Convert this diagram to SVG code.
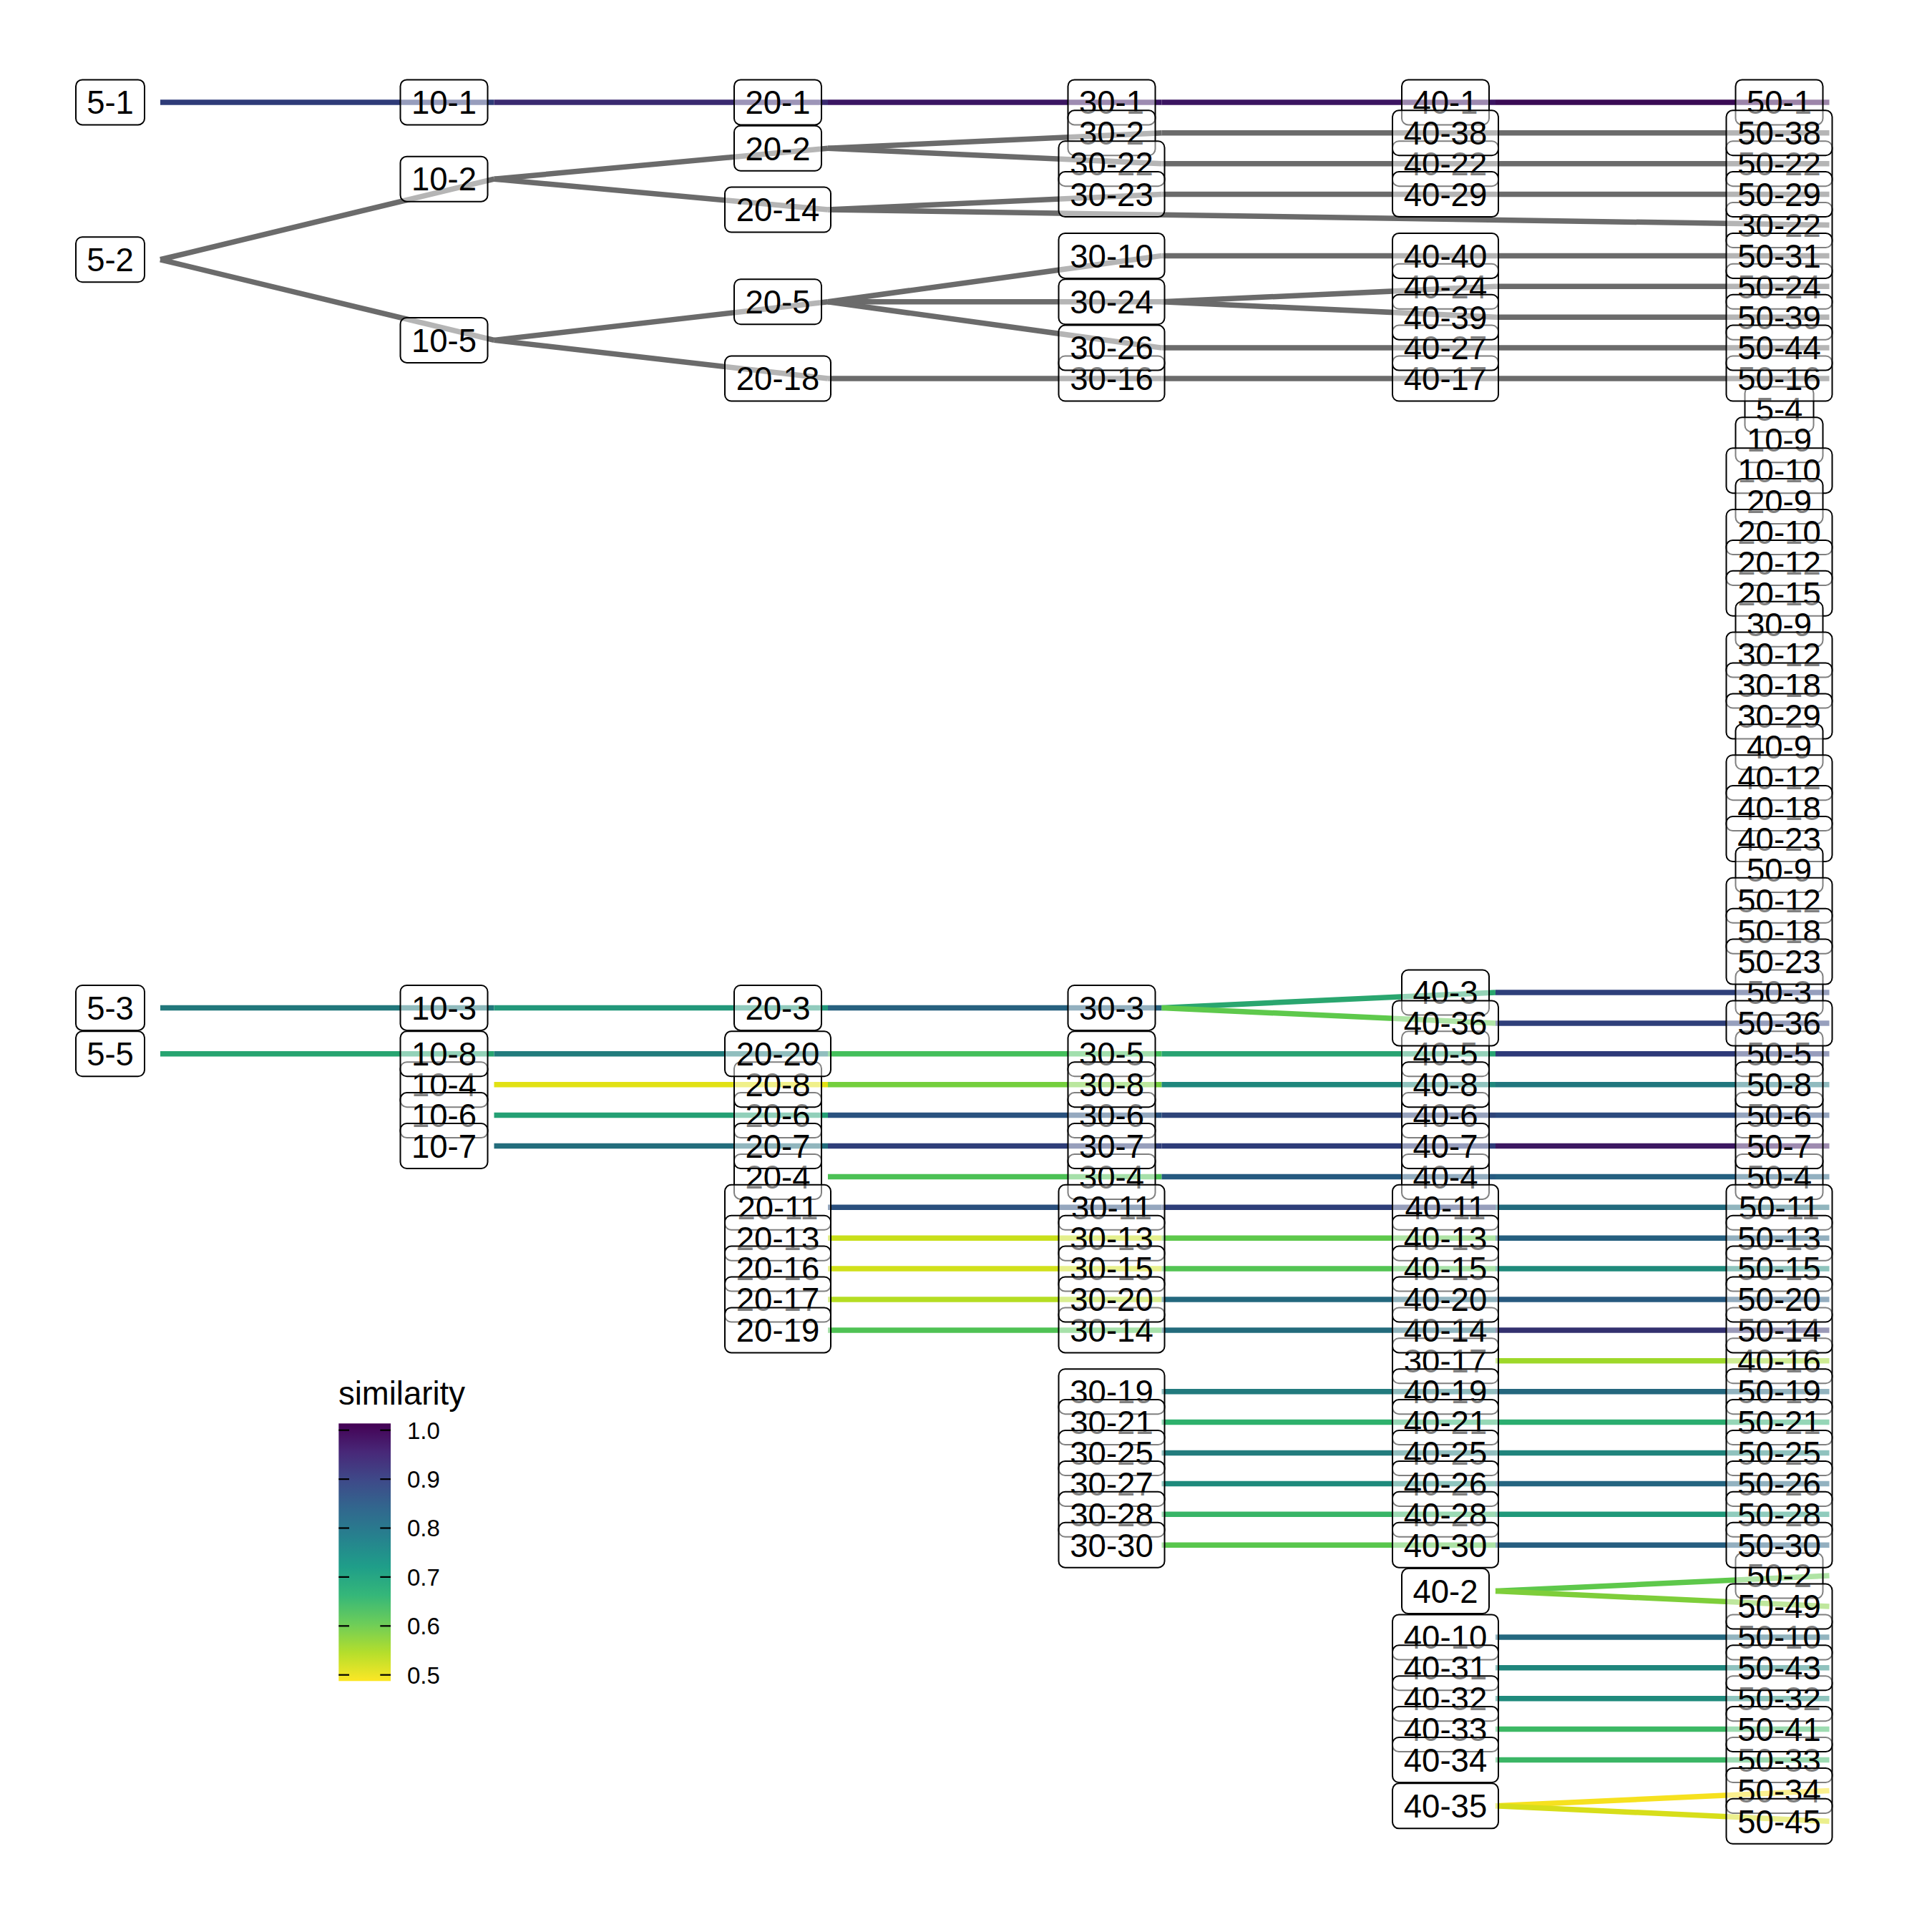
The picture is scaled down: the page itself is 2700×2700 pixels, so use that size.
<svg xmlns="http://www.w3.org/2000/svg" xmlns:xlink="http://www.w3.org/1999/xlink" width="2700" height="2700" viewBox="0 0 2700 2700">
<style>
text{font-family:"Liberation Sans",Arial,sans-serif;fill:#000}
.n text{font-size:45.5px;text-anchor:middle}
#edges line{stroke-width:7.5;fill:none}
#edges .g{stroke:#6b6b6b}
.lg{font-size:33px}
.tk{stroke:#000;stroke-width:2.2}
</style>
<defs>
<rect id="b3" x="-48" y="-31.5" width="96" height="63" rx="9" fill="#fff" fill-opacity="0.5" stroke="#000" stroke-width="2"/>
<rect id="b4" x="-61" y="-31.5" width="122" height="63" rx="9" fill="#fff" fill-opacity="0.5" stroke="#000" stroke-width="2"/>
<rect id="b5" x="-74" y="-31.5" width="148" height="63" rx="9" fill="#fff" fill-opacity="0.5" stroke="#000" stroke-width="2"/>
<rect id="st" x="61" y="-4.5" width="9.5" height="9" fill="#fff" fill-opacity="0.5"/>
<linearGradient id="vir" x1="0" y1="0" x2="0" y2="1">
<stop offset="0" stop-color="#440154"/>
<stop offset="0.111" stop-color="#482878"/>
<stop offset="0.222" stop-color="#3E4A89"/>
<stop offset="0.333" stop-color="#31688E"/>
<stop offset="0.444" stop-color="#26828E"/>
<stop offset="0.556" stop-color="#1F9E89"/>
<stop offset="0.667" stop-color="#35B779"/>
<stop offset="0.778" stop-color="#6DCD59"/>
<stop offset="0.889" stop-color="#B4DE2C"/>
<stop offset="1" stop-color="#FDE725"/>
</linearGradient>
</defs>
<rect width="2700" height="2700" fill="#fff"/>
<g id="edges">
<line x1="224" y1="142.9" x2="690.5" y2="142.9" stroke="#2e3b78"/>
<line x1="690.5" y1="142.9" x2="1157" y2="142.9" stroke="#3a2a70"/>
<line x1="1157" y1="142.9" x2="1623.5" y2="142.9" stroke="#3b1663"/>
<line x1="1623.5" y1="142.9" x2="2090" y2="142.9" stroke="#3b1461"/>
<line x1="2090" y1="142.9" x2="2556.5" y2="142.9" stroke="#3a0b55"/>
<line class="g" x1="224" y1="362.76" x2="690.5" y2="250.15"/>
<line class="g" x1="224" y1="362.76" x2="690.5" y2="475.38"/>
<line class="g" x1="690.5" y1="250.15" x2="1157" y2="207.25"/>
<line class="g" x1="690.5" y1="250.15" x2="1157" y2="293.05"/>
<line class="g" x1="690.5" y1="475.38" x2="1157" y2="421.75"/>
<line class="g" x1="690.5" y1="475.38" x2="1157" y2="529"/>
<line class="g" x1="1157" y1="207.25" x2="1623.5" y2="185.8"/>
<line class="g" x1="1157" y1="207.25" x2="1623.5" y2="228.7"/>
<line class="g" x1="1157" y1="293.05" x2="1623.5" y2="271.6"/>
<line class="g" x1="1157" y1="293.05" x2="2556.5" y2="314.5"/>
<line class="g" x1="1157" y1="421.75" x2="1623.5" y2="357.4"/>
<line class="g" x1="1157" y1="421.75" x2="1623.5" y2="421.75"/>
<line class="g" x1="1157" y1="421.75" x2="1623.5" y2="486.1"/>
<line class="g" x1="1157" y1="529" x2="1623.5" y2="529"/>
<line class="g" x1="1623.5" y1="185.8" x2="2090" y2="185.8"/>
<line class="g" x1="1623.5" y1="228.7" x2="2090" y2="228.7"/>
<line class="g" x1="1623.5" y1="271.6" x2="2090" y2="271.6"/>
<line class="g" x1="1623.5" y1="357.4" x2="2090" y2="357.4"/>
<line class="g" x1="1623.5" y1="421.75" x2="2090" y2="400.3"/>
<line class="g" x1="1623.5" y1="421.75" x2="2090" y2="443.2"/>
<line class="g" x1="1623.5" y1="486.1" x2="2090" y2="486.1"/>
<line class="g" x1="1623.5" y1="529" x2="2090" y2="529"/>
<line class="g" x1="2090" y1="185.8" x2="2556.5" y2="185.8"/>
<line class="g" x1="2090" y1="228.7" x2="2556.5" y2="228.7"/>
<line class="g" x1="2090" y1="271.6" x2="2556.5" y2="271.6"/>
<line class="g" x1="2090" y1="357.4" x2="2556.5" y2="357.4"/>
<line class="g" x1="2090" y1="400.3" x2="2556.5" y2="400.3"/>
<line class="g" x1="2090" y1="443.2" x2="2556.5" y2="443.2"/>
<line class="g" x1="2090" y1="486.1" x2="2556.5" y2="486.1"/>
<line class="g" x1="2090" y1="529" x2="2556.5" y2="529"/>
<line x1="224" y1="1408.45" x2="690.5" y2="1408.45" stroke="#21777b"/>
<line x1="690.5" y1="1408.45" x2="1157" y2="1408.45" stroke="#22977a"/>
<line x1="1157" y1="1408.45" x2="1623.5" y2="1408.45" stroke="#27617f"/>
<line x1="1623.5" y1="1408.45" x2="2090" y2="1387" stroke="#2aa66f"/>
<line x1="1623.5" y1="1408.45" x2="2090" y2="1429.9" stroke="#5ec94c"/>
<line x1="2090" y1="1387" x2="2556.5" y2="1387" stroke="#2e3f7a"/>
<line x1="2090" y1="1429.9" x2="2556.5" y2="1429.9" stroke="#2f3f7a"/>
<line x1="224" y1="1472.8" x2="690.5" y2="1472.8" stroke="#27a470"/>
<line x1="690.5" y1="1472.8" x2="1157" y2="1472.8" stroke="#227c7d"/>
<line x1="1157" y1="1472.8" x2="1623.5" y2="1472.8" stroke="#44bf5b"/>
<line x1="1623.5" y1="1472.8" x2="2090" y2="1472.8" stroke="#28a372"/>
<line x1="2090" y1="1472.8" x2="2556.5" y2="1472.8" stroke="#2e3a79"/>
<line x1="690.5" y1="1515.7" x2="1157" y2="1515.7" stroke="#e1e114"/>
<line x1="1157" y1="1515.7" x2="1623.5" y2="1515.7" stroke="#74cf3d"/>
<line x1="1623.5" y1="1515.7" x2="2090" y2="1515.7" stroke="#1f877c"/>
<line x1="2090" y1="1515.7" x2="2556.5" y2="1515.7" stroke="#21777e"/>
<line x1="690.5" y1="1558.6" x2="1157" y2="1558.6" stroke="#24a074"/>
<line x1="1157" y1="1558.6" x2="1623.5" y2="1558.6" stroke="#2a527f"/>
<line x1="1623.5" y1="1558.6" x2="2090" y2="1558.6" stroke="#2e4479"/>
<line x1="2090" y1="1558.6" x2="2556.5" y2="1558.6" stroke="#2c4a7e"/>
<line x1="690.5" y1="1601.5" x2="1157" y2="1601.5" stroke="#236d7c"/>
<line x1="1157" y1="1601.5" x2="1623.5" y2="1601.5" stroke="#2f3e79"/>
<line x1="1623.5" y1="1601.5" x2="2090" y2="1601.5" stroke="#2d3b78"/>
<line x1="2090" y1="1601.5" x2="2556.5" y2="1601.5" stroke="#3c1761"/>
<line x1="1157" y1="1644.4" x2="1623.5" y2="1644.4" stroke="#4cc155"/>
<line x1="1623.5" y1="1644.4" x2="2090" y2="1644.4" stroke="#265a80"/>
<line x1="2090" y1="1644.4" x2="2556.5" y2="1644.4" stroke="#256080"/>
<line x1="1157" y1="1687.3" x2="1623.5" y2="1687.3" stroke="#2a4f7d"/>
<line x1="1623.5" y1="1687.3" x2="2090" y2="1687.3" stroke="#2e3e79"/>
<line x1="2090" y1="1687.3" x2="2556.5" y2="1687.3" stroke="#226a7d"/>
<line x1="1157" y1="1730.2" x2="1623.5" y2="1730.2" stroke="#c8df1a"/>
<line x1="1623.5" y1="1730.2" x2="2090" y2="1730.2" stroke="#5ec84b"/>
<line x1="2090" y1="1730.2" x2="2556.5" y2="1730.2" stroke="#255f7f"/>
<line x1="1157" y1="1773.1" x2="1623.5" y2="1773.1" stroke="#d1e01a"/>
<line x1="1623.5" y1="1773.1" x2="2090" y2="1773.1" stroke="#53c453"/>
<line x1="2090" y1="1773.1" x2="2556.5" y2="1773.1" stroke="#1f8a7b"/>
<line x1="1157" y1="1816" x2="1623.5" y2="1816" stroke="#b5dd22"/>
<line x1="1623.5" y1="1816" x2="2090" y2="1816" stroke="#23687e"/>
<line x1="2090" y1="1816" x2="2556.5" y2="1816" stroke="#27597f"/>
<line x1="1157" y1="1858.9" x2="1623.5" y2="1858.9" stroke="#4fc254"/>
<line x1="1623.5" y1="1858.9" x2="2090" y2="1858.9" stroke="#236b7c"/>
<line x1="2090" y1="1858.9" x2="2556.5" y2="1858.9" stroke="#33316f"/>
<line x1="2090" y1="1901.8" x2="2556.5" y2="1901.8" stroke="#9ed829"/>
<line x1="1623.5" y1="1944.7" x2="2090" y2="1944.7" stroke="#227a7e"/>
<line x1="2090" y1="1944.7" x2="2556.5" y2="1944.7" stroke="#24677e"/>
<line x1="1623.5" y1="1987.6" x2="2090" y2="1987.6" stroke="#2db06c"/>
<line x1="2090" y1="1987.6" x2="2556.5" y2="1987.6" stroke="#2aad6f"/>
<line x1="1623.5" y1="2030.5" x2="2090" y2="2030.5" stroke="#237c7d"/>
<line x1="2090" y1="2030.5" x2="2556.5" y2="2030.5" stroke="#20847c"/>
<line x1="1623.5" y1="2073.4" x2="2090" y2="2073.4" stroke="#1f8a7c"/>
<line x1="2090" y1="2073.4" x2="2556.5" y2="2073.4" stroke="#256581"/>
<line x1="1623.5" y1="2116.3" x2="2090" y2="2116.3" stroke="#38b567"/>
<line x1="2090" y1="2116.3" x2="2556.5" y2="2116.3" stroke="#20997a"/>
<line x1="1623.5" y1="2159.2" x2="2090" y2="2159.2" stroke="#58c64c"/>
<line x1="2090" y1="2159.2" x2="2556.5" y2="2159.2" stroke="#265e80"/>
<line x1="2090" y1="2223.55" x2="2556.5" y2="2202.1" stroke="#5ec84b"/>
<line x1="2090" y1="2223.55" x2="2556.5" y2="2245" stroke="#7ece3a"/>
<line x1="2090" y1="2287.9" x2="2556.5" y2="2287.9" stroke="#24687f"/>
<line x1="2090" y1="2330.8" x2="2556.5" y2="2330.8" stroke="#1f857c"/>
<line x1="2090" y1="2373.7" x2="2556.5" y2="2373.7" stroke="#1f8a7c"/>
<line x1="2090" y1="2416.6" x2="2556.5" y2="2416.6" stroke="#3cb864"/>
<line x1="2090" y1="2459.5" x2="2556.5" y2="2459.5" stroke="#3bb666"/>
<line x1="2090" y1="2523.85" x2="2556.5" y2="2502.4" stroke="#f6e11f"/>
<line x1="2090" y1="2523.85" x2="2556.5" y2="2545.3" stroke="#d7de1a"/>
</g>
<g id="nodes">
<g id="n5-1" class="n" transform="translate(154 142.9)"><use href="#b3"/><text y="16.3">5-1</text></g>
<g id="n5-2" class="n" transform="translate(154 362.76)"><use href="#b3"/><text y="16.3">5-2</text></g>
<g id="n5-3" class="n" transform="translate(154 1408.45)"><use href="#b3"/><text y="16.3">5-3</text></g>
<g id="n5-4" class="n" transform="translate(2486.5 571.9)"><use href="#b3"/><text y="16.3">5-4</text></g>
<g id="n5-5" class="n" transform="translate(154 1472.8)"><use href="#b3"/><text y="16.3">5-5</text></g>
<g id="n10-1" class="n" transform="translate(620.5 142.9)"><use href="#b4"/><text y="16.3">10-1</text></g>
<g id="n10-2" class="n" transform="translate(620.5 250.15)"><use href="#b4"/><text y="16.3">10-2</text></g>
<g id="n10-3" class="n" transform="translate(620.5 1408.45)"><use href="#b4"/><text y="16.3">10-3</text></g>
<g id="n10-4" class="n" transform="translate(620.5 1515.7)"><use href="#b4"/><text y="16.3">10-4</text></g>
<g id="n10-5" class="n" transform="translate(620.5 475.38)"><use href="#b4"/><text y="16.3">10-5</text></g>
<g id="n10-6" class="n" transform="translate(620.5 1558.6)"><use href="#b4"/><text y="16.3">10-6</text></g>
<g id="n10-7" class="n" transform="translate(620.5 1601.5)"><use href="#b4"/><text y="16.3">10-7</text></g>
<g id="n10-8" class="n" transform="translate(620.5 1472.8)"><use href="#b4"/><text y="16.3">10-8</text></g>
<g id="n10-9" class="n" transform="translate(2486.5 614.8)"><use href="#b4"/><text y="16.3">10-9</text></g>
<g id="n10-10" class="n" transform="translate(2486.5 657.7)"><use href="#b5"/><text y="16.3">10-10</text></g>
<g id="n20-1" class="n" transform="translate(1087 142.9)"><use href="#b4"/><text y="16.3">20-1</text></g>
<g id="n20-2" class="n" transform="translate(1087 207.25)"><use href="#b4"/><text y="16.3">20-2</text></g>
<g id="n20-3" class="n" transform="translate(1087 1408.45)"><use href="#b4"/><text y="16.3">20-3</text></g>
<g id="n20-4" class="n" transform="translate(1087 1644.4)"><use href="#b4"/><text y="16.3">20-4</text></g>
<g id="n20-5" class="n" transform="translate(1087 421.75)"><use href="#b4"/><text y="16.3">20-5</text></g>
<g id="n20-6" class="n" transform="translate(1087 1558.6)"><use href="#b4"/><text y="16.3">20-6</text></g>
<g id="n20-7" class="n" transform="translate(1087 1601.5)"><use href="#b4"/><text y="16.3">20-7</text></g>
<g id="n20-8" class="n" transform="translate(1087 1515.7)"><use href="#b4"/><text y="16.3">20-8</text></g>
<g id="n20-9" class="n" transform="translate(2486.5 700.6)"><use href="#b4"/><text y="16.3">20-9</text></g>
<g id="n20-10" class="n" transform="translate(2486.5 743.5)"><use href="#b5"/><text y="16.3">20-10</text></g>
<g id="n20-11" class="n" transform="translate(1087 1687.3)"><use href="#b5"/><text y="16.3">20-11</text></g>
<g id="n20-12" class="n" transform="translate(2486.5 786.4)"><use href="#b5"/><text y="16.3">20-12</text></g>
<g id="n20-13" class="n" transform="translate(1087 1730.2)"><use href="#b5"/><text y="16.3">20-13</text></g>
<g id="n20-14" class="n" transform="translate(1087 293.05)"><use href="#b5"/><text y="16.3">20-14</text></g>
<g id="n20-15" class="n" transform="translate(2486.5 829.3)"><use href="#b5"/><text y="16.3">20-15</text></g>
<g id="n20-16" class="n" transform="translate(1087 1773.1)"><use href="#b5"/><text y="16.3">20-16</text></g>
<g id="n20-17" class="n" transform="translate(1087 1816)"><use href="#b5"/><text y="16.3">20-17</text></g>
<g id="n20-18" class="n" transform="translate(1087 529)"><use href="#b5"/><text y="16.3">20-18</text></g>
<g id="n20-19" class="n" transform="translate(1087 1858.9)"><use href="#b5"/><text y="16.3">20-19</text></g>
<g id="n20-20" class="n" transform="translate(1087 1472.8)"><use href="#b5"/><text y="16.3">20-20</text></g>
<g id="n30-1" class="n" transform="translate(1553.5 142.9)"><use href="#b4"/><text y="16.3">30-1</text></g>
<g id="n30-2" class="n" transform="translate(1553.5 185.8)"><use href="#b4"/><text y="16.3">30-2</text></g>
<g id="n30-3" class="n" transform="translate(1553.5 1408.45)"><use href="#b4"/><text y="16.3">30-3</text></g>
<g id="n30-4" class="n" transform="translate(1553.5 1644.4)"><use href="#b4"/><text y="16.3">30-4</text></g>
<g id="n30-5" class="n" transform="translate(1553.5 1472.8)"><use href="#b4"/><text y="16.3">30-5</text></g>
<g id="n30-6" class="n" transform="translate(1553.5 1558.6)"><use href="#b4"/><text y="16.3">30-6</text></g>
<g id="n30-7" class="n" transform="translate(1553.5 1601.5)"><use href="#b4"/><text y="16.3">30-7</text></g>
<g id="n30-8" class="n" transform="translate(1553.5 1515.7)"><use href="#b4"/><text y="16.3">30-8</text></g>
<g id="n30-9" class="n" transform="translate(2486.5 872.2)"><use href="#b4"/><text y="16.3">30-9</text></g>
<g id="n30-10" class="n" transform="translate(1553.5 357.4)"><use href="#b5"/><text y="16.3">30-10</text></g>
<g id="n30-11" class="n" transform="translate(1553.5 1687.3)"><use href="#b5"/><text y="16.3">30-11</text></g>
<g id="n30-12" class="n" transform="translate(2486.5 915.1)"><use href="#b5"/><text y="16.3">30-12</text></g>
<g id="n30-13" class="n" transform="translate(1553.5 1730.2)"><use href="#b5"/><text y="16.3">30-13</text></g>
<g id="n30-14" class="n" transform="translate(1553.5 1858.9)"><use href="#b5"/><text y="16.3">30-14</text></g>
<g id="n30-15" class="n" transform="translate(1553.5 1773.1)"><use href="#b5"/><text y="16.3">30-15</text></g>
<g id="n30-16" class="n" transform="translate(1553.5 529)"><use href="#b5"/><text y="16.3">30-16</text></g>
<g id="n30-17" class="n" transform="translate(2020 1901.8)"><use href="#b5"/><text y="16.3">30-17</text></g>
<g id="n30-18" class="n" transform="translate(2486.5 958)"><use href="#b5"/><text y="16.3">30-18</text></g>
<g id="n30-19" class="n" transform="translate(1553.5 1944.7)"><use href="#b5"/><text y="16.3">30-19</text></g>
<g id="n30-20" class="n" transform="translate(1553.5 1816)"><use href="#b5"/><text y="16.3">30-20</text></g>
<g id="n30-21" class="n" transform="translate(1553.5 1987.6)"><use href="#b5"/><text y="16.3">30-21</text></g>
<g id="n30-22" class="n" transform="translate(1553.5 228.7)"><use href="#b5"/><text y="16.3">30-22</text></g>
<g id="n30-22b" class="n" transform="translate(2486.5 314.5)"><use href="#b5"/><text y="16.3">30-22</text></g>
<g id="n30-23" class="n" transform="translate(1553.5 271.6)"><use href="#b5"/><text y="16.3">30-23</text></g>
<g id="n30-24" class="n" transform="translate(1553.5 421.75)"><use href="#b5"/><text y="16.3">30-24</text></g>
<g id="n30-25" class="n" transform="translate(1553.5 2030.5)"><use href="#b5"/><text y="16.3">30-25</text></g>
<g id="n30-26" class="n" transform="translate(1553.5 486.1)"><use href="#b5"/><text y="16.3">30-26</text></g>
<g id="n30-27" class="n" transform="translate(1553.5 2073.4)"><use href="#b5"/><text y="16.3">30-27</text></g>
<g id="n30-28" class="n" transform="translate(1553.5 2116.3)"><use href="#b5"/><text y="16.3">30-28</text></g>
<g id="n30-29" class="n" transform="translate(2486.5 1000.9)"><use href="#b5"/><text y="16.3">30-29</text></g>
<g id="n30-30" class="n" transform="translate(1553.5 2159.2)"><use href="#b5"/><text y="16.3">30-30</text></g>
<g id="n40-1" class="n" transform="translate(2020 142.9)"><use href="#b4"/><text y="16.3">40-1</text></g>
<g id="n40-2" class="n" transform="translate(2020 2223.55)"><use href="#b4"/><text y="16.3">40-2</text></g>
<g id="n40-3" class="n" transform="translate(2020 1387)"><use href="#b4"/><text y="16.3">40-3</text></g>
<g id="n40-4" class="n" transform="translate(2020 1644.4)"><use href="#b4"/><text y="16.3">40-4</text></g>
<g id="n40-5" class="n" transform="translate(2020 1472.8)"><use href="#b4"/><text y="16.3">40-5</text></g>
<g id="n40-6" class="n" transform="translate(2020 1558.6)"><use href="#b4"/><text y="16.3">40-6</text></g>
<g id="n40-7" class="n" transform="translate(2020 1601.5)"><use href="#b4"/><text y="16.3">40-7</text></g>
<g id="n40-8" class="n" transform="translate(2020 1515.7)"><use href="#b4"/><text y="16.3">40-8</text></g>
<g id="n40-9" class="n" transform="translate(2486.5 1043.8)"><use href="#b4"/><text y="16.3">40-9</text></g>
<g id="n40-10" class="n" transform="translate(2020 2287.9)"><use href="#b5"/><text y="16.3">40-10</text></g>
<g id="n40-11" class="n" transform="translate(2020 1687.3)"><use href="#b5"/><text y="16.3">40-11</text></g>
<g id="n40-12" class="n" transform="translate(2486.5 1086.7)"><use href="#b5"/><text y="16.3">40-12</text></g>
<g id="n40-13" class="n" transform="translate(2020 1730.2)"><use href="#b5"/><text y="16.3">40-13</text></g>
<g id="n40-14" class="n" transform="translate(2020 1858.9)"><use href="#b5"/><text y="16.3">40-14</text></g>
<g id="n40-15" class="n" transform="translate(2020 1773.1)"><use href="#b5"/><text y="16.3">40-15</text></g>
<g id="n40-16" class="n" transform="translate(2486.5 1901.8)"><use href="#b5"/><text y="16.3">40-16</text></g>
<g id="n40-17" class="n" transform="translate(2020 529)"><use href="#b5"/><text y="16.3">40-17</text></g>
<g id="n40-18" class="n" transform="translate(2486.5 1129.6)"><use href="#b5"/><text y="16.3">40-18</text></g>
<g id="n40-19" class="n" transform="translate(2020 1944.7)"><use href="#b5"/><text y="16.3">40-19</text></g>
<g id="n40-20" class="n" transform="translate(2020 1816)"><use href="#b5"/><text y="16.3">40-20</text></g>
<g id="n40-21" class="n" transform="translate(2020 1987.6)"><use href="#b5"/><text y="16.3">40-21</text></g>
<g id="n40-22" class="n" transform="translate(2020 228.7)"><use href="#b5"/><text y="16.3">40-22</text></g>
<g id="n40-23" class="n" transform="translate(2486.5 1172.5)"><use href="#b5"/><text y="16.3">40-23</text></g>
<g id="n40-24" class="n" transform="translate(2020 400.3)"><use href="#b5"/><text y="16.3">40-24</text></g>
<g id="n40-25" class="n" transform="translate(2020 2030.5)"><use href="#b5"/><text y="16.3">40-25</text></g>
<g id="n40-26" class="n" transform="translate(2020 2073.4)"><use href="#b5"/><text y="16.3">40-26</text></g>
<g id="n40-27" class="n" transform="translate(2020 486.1)"><use href="#b5"/><text y="16.3">40-27</text></g>
<g id="n40-28" class="n" transform="translate(2020 2116.3)"><use href="#b5"/><text y="16.3">40-28</text></g>
<g id="n40-29" class="n" transform="translate(2020 271.6)"><use href="#b5"/><text y="16.3">40-29</text></g>
<g id="n40-30" class="n" transform="translate(2020 2159.2)"><use href="#b5"/><text y="16.3">40-30</text></g>
<g id="n40-31" class="n" transform="translate(2020 2330.8)"><use href="#b5"/><text y="16.3">40-31</text></g>
<g id="n40-32" class="n" transform="translate(2020 2373.7)"><use href="#b5"/><text y="16.3">40-32</text></g>
<g id="n40-33" class="n" transform="translate(2020 2416.6)"><use href="#b5"/><text y="16.3">40-33</text></g>
<g id="n40-34" class="n" transform="translate(2020 2459.5)"><use href="#b5"/><text y="16.3">40-34</text></g>
<g id="n40-35" class="n" transform="translate(2020 2523.85)"><use href="#b5"/><text y="16.3">40-35</text></g>
<g id="n40-36" class="n" transform="translate(2020 1429.9)"><use href="#b5"/><text y="16.3">40-36</text></g>
<g id="n40-38" class="n" transform="translate(2020 185.8)"><use href="#b5"/><text y="16.3">40-38</text></g>
<g id="n40-39" class="n" transform="translate(2020 443.2)"><use href="#b5"/><text y="16.3">40-39</text></g>
<g id="n40-40" class="n" transform="translate(2020 357.4)"><use href="#b5"/><text y="16.3">40-40</text></g>
<g id="n50-1" class="n" transform="translate(2486.5 142.9)"><use href="#st"/><use href="#b4"/><text y="16.3">50-1</text></g>
<g id="n50-2" class="n" transform="translate(2486.5 2202.1)"><use href="#st"/><use href="#b4"/><text y="16.3">50-2</text></g>
<g id="n50-3" class="n" transform="translate(2486.5 1387)"><use href="#st"/><use href="#b4"/><text y="16.3">50-3</text></g>
<g id="n50-4" class="n" transform="translate(2486.5 1644.4)"><use href="#st"/><use href="#b4"/><text y="16.3">50-4</text></g>
<g id="n50-5" class="n" transform="translate(2486.5 1472.8)"><use href="#st"/><use href="#b4"/><text y="16.3">50-5</text></g>
<g id="n50-6" class="n" transform="translate(2486.5 1558.6)"><use href="#st"/><use href="#b4"/><text y="16.3">50-6</text></g>
<g id="n50-7" class="n" transform="translate(2486.5 1601.5)"><use href="#st"/><use href="#b4"/><text y="16.3">50-7</text></g>
<g id="n50-8" class="n" transform="translate(2486.5 1515.7)"><use href="#st"/><use href="#b4"/><text y="16.3">50-8</text></g>
<g id="n50-9" class="n" transform="translate(2486.5 1215.4)"><use href="#b4"/><text y="16.3">50-9</text></g>
<g id="n50-10" class="n" transform="translate(2486.5 2287.9)"><use href="#b5"/><text y="16.3">50-10</text></g>
<g id="n50-11" class="n" transform="translate(2486.5 1687.3)"><use href="#b5"/><text y="16.3">50-11</text></g>
<g id="n50-12" class="n" transform="translate(2486.5 1258.3)"><use href="#b5"/><text y="16.3">50-12</text></g>
<g id="n50-13" class="n" transform="translate(2486.5 1730.2)"><use href="#b5"/><text y="16.3">50-13</text></g>
<g id="n50-14" class="n" transform="translate(2486.5 1858.9)"><use href="#b5"/><text y="16.3">50-14</text></g>
<g id="n50-15" class="n" transform="translate(2486.5 1773.1)"><use href="#b5"/><text y="16.3">50-15</text></g>
<g id="n50-16" class="n" transform="translate(2486.5 529)"><use href="#b5"/><text y="16.3">50-16</text></g>
<g id="n50-18" class="n" transform="translate(2486.5 1301.2)"><use href="#b5"/><text y="16.3">50-18</text></g>
<g id="n50-19" class="n" transform="translate(2486.5 1944.7)"><use href="#b5"/><text y="16.3">50-19</text></g>
<g id="n50-20" class="n" transform="translate(2486.5 1816)"><use href="#b5"/><text y="16.3">50-20</text></g>
<g id="n50-21" class="n" transform="translate(2486.5 1987.6)"><use href="#b5"/><text y="16.3">50-21</text></g>
<g id="n50-22" class="n" transform="translate(2486.5 228.7)"><use href="#b5"/><text y="16.3">50-22</text></g>
<g id="n50-23" class="n" transform="translate(2486.5 1344.1)"><use href="#b5"/><text y="16.3">50-23</text></g>
<g id="n50-24" class="n" transform="translate(2486.5 400.3)"><use href="#b5"/><text y="16.3">50-24</text></g>
<g id="n50-25" class="n" transform="translate(2486.5 2030.5)"><use href="#b5"/><text y="16.3">50-25</text></g>
<g id="n50-26" class="n" transform="translate(2486.5 2073.4)"><use href="#b5"/><text y="16.3">50-26</text></g>
<g id="n50-28" class="n" transform="translate(2486.5 2116.3)"><use href="#b5"/><text y="16.3">50-28</text></g>
<g id="n50-29" class="n" transform="translate(2486.5 271.6)"><use href="#b5"/><text y="16.3">50-29</text></g>
<g id="n50-30" class="n" transform="translate(2486.5 2159.2)"><use href="#b5"/><text y="16.3">50-30</text></g>
<g id="n50-31" class="n" transform="translate(2486.5 357.4)"><use href="#b5"/><text y="16.3">50-31</text></g>
<g id="n50-32" class="n" transform="translate(2486.5 2373.7)"><use href="#b5"/><text y="16.3">50-32</text></g>
<g id="n50-33" class="n" transform="translate(2486.5 2459.5)"><use href="#b5"/><text y="16.3">50-33</text></g>
<g id="n50-34" class="n" transform="translate(2486.5 2502.4)"><use href="#b5"/><text y="16.3">50-34</text></g>
<g id="n50-36" class="n" transform="translate(2486.5 1429.9)"><use href="#b5"/><text y="16.3">50-36</text></g>
<g id="n50-38" class="n" transform="translate(2486.5 185.8)"><use href="#b5"/><text y="16.3">50-38</text></g>
<g id="n50-39" class="n" transform="translate(2486.5 443.2)"><use href="#b5"/><text y="16.3">50-39</text></g>
<g id="n50-41" class="n" transform="translate(2486.5 2416.6)"><use href="#b5"/><text y="16.3">50-41</text></g>
<g id="n50-43" class="n" transform="translate(2486.5 2330.8)"><use href="#b5"/><text y="16.3">50-43</text></g>
<g id="n50-44" class="n" transform="translate(2486.5 486.1)"><use href="#b5"/><text y="16.3">50-44</text></g>
<g id="n50-45" class="n" transform="translate(2486.5 2545.3)"><use href="#b5"/><text y="16.3">50-45</text></g>
<g id="n50-49" class="n" transform="translate(2486.5 2245)"><use href="#b5"/><text y="16.3">50-49</text></g>
</g>
<g id="legend">
<text x="473" y="1963" style="font-size:45.5px">similarity</text>
<rect x="473.3" y="1989.3" width="72.7" height="360" fill="url(#vir)"/>
<g class="tk">
<line x1="473.3" y1="1998.7" x2="488" y2="1998.7"/><line x1="531.3" y1="1998.7" x2="546" y2="1998.7"/>
<line x1="473.3" y1="2067.1" x2="488" y2="2067.1"/><line x1="531.3" y1="2067.1" x2="546" y2="2067.1"/>
<line x1="473.3" y1="2135.5" x2="488" y2="2135.5"/><line x1="531.3" y1="2135.5" x2="546" y2="2135.5"/>
<line x1="473.3" y1="2203.9" x2="488" y2="2203.9"/><line x1="531.3" y1="2203.9" x2="546" y2="2203.9"/>
<line x1="473.3" y1="2272.3" x2="488" y2="2272.3"/><line x1="531.3" y1="2272.3" x2="546" y2="2272.3"/>
<line x1="473.3" y1="2340.7" x2="488" y2="2340.7"/><line x1="531.3" y1="2340.7" x2="546" y2="2340.7"/>
</g>
<text class="lg" x="569" y="2010.5">1.0</text>
<text class="lg" x="569" y="2078.9">0.9</text>
<text class="lg" x="569" y="2147.3">0.8</text>
<text class="lg" x="569" y="2215.7">0.7</text>
<text class="lg" x="569" y="2284.1">0.6</text>
<text class="lg" x="569" y="2352.5">0.5</text>
</g>
</svg>
